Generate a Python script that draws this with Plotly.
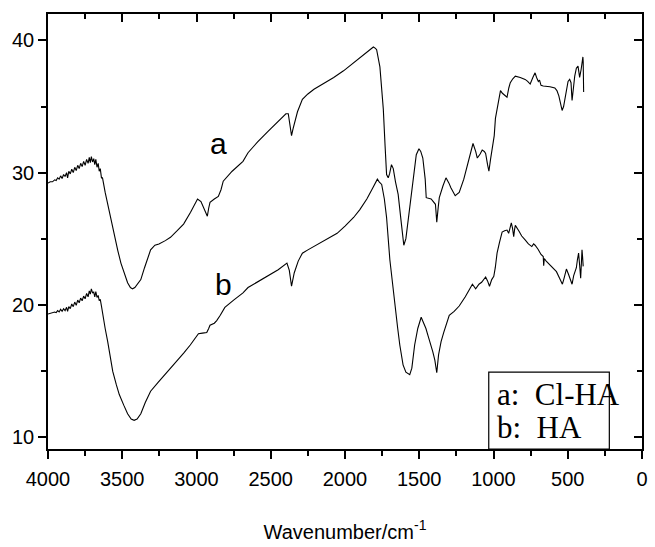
import plotly.graph_objects as go

# Curve a (Cl-HA)
wn_a = [4000, 3985, 3970, 3955, 3945, 3935, 3925, 3915, 3905, 3895, 3885, 3875, 3868, 3860, 3850, 3840,
        3830, 3820, 3810, 3800, 3790, 3780, 3770, 3760, 3750, 3740, 3730, 3722, 3715, 3708, 3700, 3692,
        3685, 3678, 3670, 3662, 3655, 3648, 3640, 3633, 3615, 3598, 3575, 3553, 3530, 3509, 3485, 3464,
        3445, 3431, 3415, 3395, 3375, 3350, 3325, 3309, 3280, 3253, 3210, 3175, 3130, 3087, 3040, 2993,
        2970, 2953, 2935, 2927, 2918, 2909, 2880, 2853, 2835, 2820, 2760, 2687, 2653, 2590, 2520, 2460,
        2398, 2382, 2372, 2360, 2350, 2342, 2320, 2287, 2250, 2209, 2140, 2076, 2010, 1942, 1875, 1830,
        1809, 1795, 1787, 1765, 1742, 1730, 1720, 1709, 1700, 1687, 1675, 1660, 1642, 1620, 1604, 1590,
        1570, 1545, 1520, 1502, 1490, 1476, 1460, 1453, 1420, 1391, 1382, 1372, 1365, 1340, 1320, 1300,
        1287, 1258, 1231, 1200, 1176, 1150, 1138, 1120, 1109, 1090, 1076, 1062, 1053, 1040, 1031, 1020,
        1009, 995, 987, 970, 953, 940, 931, 920, 909, 897, 887, 870, 853, 820, 787, 770,
        753, 735, 720, 710, 698, 690, 680, 665, 620, 587, 573, 560, 548, 538, 528, 520,
        510, 498, 487, 478, 471, 462, 453, 442, 431, 425, 420, 410, 404, 398, 396, 393]
t_a = [29.2, 29.3, 29.3, 29.45, 29.4, 29.6, 29.5, 29.75, 29.55, 29.85, 29.7, 30.0, 29.6, 30.1, 29.9, 30.25,
       30.0, 30.4, 30.15, 30.55, 30.3, 30.7, 30.45, 30.85, 30.55, 31.0, 30.7, 31.15, 30.75, 31.2, 30.8, 31.05,
       30.6, 31.0, 30.4, 30.7, 30.1, 30.3, 29.6, 29.6, 28.5, 27.6, 26.3, 25.1, 24.1, 23.15, 22.3, 21.66,
       21.3, 21.2, 21.3, 21.6, 21.9, 22.8, 23.7, 24.15, 24.5, 24.6, 24.85, 25.1, 25.6, 26.1, 27.0, 28.0,
       27.8, 27.4, 27.0, 26.7, 27.3, 27.75, 28.0, 28.2, 28.7, 29.35, 30.1, 30.85, 31.5, 32.3, 33.1, 33.8,
       34.45, 34.45, 33.6, 32.8, 33.3, 33.7, 34.6, 35.55, 35.95, 36.3, 36.75, 37.2, 37.7, 38.3, 38.9, 39.3,
       39.5, 39.4, 39.3, 38.0, 34.8, 32.0, 29.85, 29.6, 29.9, 30.6, 30.3, 29.3, 28.35, 26.1, 24.5, 25.0,
       26.8, 29.2, 31.35, 31.8, 31.6, 31.1, 29.5, 28.1, 28.0, 27.6, 26.25, 27.4, 28.1, 29.0, 29.6, 29.2,
       28.85, 28.25, 28.5, 29.5, 30.6, 31.8, 32.2, 31.6, 31.1, 31.4, 31.7, 31.6, 31.45, 30.6, 30.1, 31.0,
       31.7, 32.8, 34.1, 35.3, 36.2, 36.0, 35.9, 35.8, 35.7, 36.4, 36.8, 37.1, 37.3, 37.2, 37.05, 36.9,
       36.7, 37.2, 37.55, 37.2, 36.9, 37.0, 36.6, 36.55, 36.5, 36.4, 36.2, 35.8, 35.2, 34.7, 35.0, 35.55,
       36.3, 36.9, 37.05, 36.8, 35.45, 36.4, 37.3, 37.9, 38.05, 37.6, 37.2, 37.8, 38.3, 38.75, 38.4, 36.1]

# Curve b (HA)
wn_b = [4000, 3985, 3970, 3955, 3945, 3935, 3925, 3915, 3905, 3895, 3885, 3875, 3868, 3860, 3850, 3840,
        3830, 3820, 3810, 3800, 3790, 3780, 3770, 3760, 3750, 3740, 3730, 3722, 3715, 3708, 3700, 3692,
        3685, 3678, 3670, 3662, 3655, 3648, 3640, 3631, 3615, 3598, 3580, 3564, 3540, 3520, 3490, 3464,
        3440, 3420, 3400, 3375, 3345, 3309, 3260, 3220, 3175, 3131, 3085, 3042, 3010, 2987, 2960, 2931,
        2918, 2909, 2880, 2864, 2840, 2809, 2750, 2687, 2653, 2590, 2520, 2450, 2391, 2375, 2360, 2350,
        2342, 2315, 2287, 2250, 2209, 2130, 2053, 2000, 1942, 1900, 1853, 1815, 1782, 1770, 1753, 1735,
        1720, 1698, 1680, 1664, 1645, 1631, 1620, 1609, 1590, 1564, 1550, 1531, 1510, 1487, 1470, 1455,
        1442, 1425, 1409, 1395, 1382, 1370, 1353, 1335, 1320, 1298, 1265, 1231, 1190, 1142, 1120, 1098,
        1080, 1064, 1053, 1040, 1027, 1012, 998, 988, 976, 960, 942, 925, 909, 898, 888, 880,
        872, 864, 858, 853, 830, 810, 787, 765, 742, 730, 720, 700, 680, 665, 662, 658,
        645, 631, 605, 576, 555, 536, 525, 509, 495, 480, 471, 460, 450, 442, 435, 427,
        420, 413, 408, 404, 400, 396]
t_b = [19.3, 19.35, 19.4, 19.45, 19.4, 19.55, 19.45, 19.65, 19.5, 19.7, 19.55, 19.8, 19.5, 19.85, 19.7, 20.05,
       19.85, 20.2, 19.95, 20.35, 20.15, 20.5, 20.3, 20.65, 20.45, 20.85, 20.6, 21.05, 20.8, 21.2, 20.9, 20.95,
       20.6, 21.0, 20.55, 20.7, 20.3, 20.4, 19.9, 19.2, 18.2, 17.2, 16.0, 14.95, 13.95, 13.2, 12.4, 11.75,
       11.35, 11.25, 11.35, 11.75, 12.6, 13.45, 14.1, 14.6, 15.15, 15.7, 16.35, 16.95, 17.4, 17.8, 17.85, 17.9,
       18.2, 18.45, 18.6, 18.8, 19.2, 19.8, 20.35, 20.9, 21.3, 21.7, 22.15, 22.65, 23.15, 22.6, 21.4, 22.0,
       22.4, 23.3, 23.9, 24.15, 24.4, 24.9, 25.4, 25.95, 26.6, 27.2, 28.0, 28.8, 29.5, 29.3, 29.1, 28.0,
       26.6, 23.4, 21.5, 19.9, 18.2, 16.95, 16.2, 15.45, 14.9, 14.7, 15.2, 16.95, 18.2, 19.05, 18.6, 18.2,
       17.7, 17.1, 16.45, 15.8, 14.85, 16.2, 17.2, 17.9, 18.45, 19.2, 19.5, 19.9, 20.6, 21.55, 21.2, 21.55,
       21.7, 21.9, 22.1, 21.8, 21.4, 21.9, 22.15, 22.8, 23.9, 24.7, 25.5, 25.6, 25.65, 25.4, 25.9, 26.2,
       25.8, 25.15, 25.7, 26.0, 25.6, 25.2, 24.9, 24.6, 24.4, 24.6, 24.5, 24.2, 23.8, 23.65, 22.95, 23.5,
       23.3, 23.15, 22.8, 22.5, 22.0, 21.55, 22.0, 22.7, 22.3, 21.9, 21.55, 22.2, 22.5, 22.8, 23.4, 23.9,
       23.0, 22.0, 23.2, 24.15, 23.6, 22.9]

x_ticks = [4000, 3500, 3000, 2500, 2000, 1500, 1000, 500, 0]
y_ticks = [10, 20, 30, 40]
x_range = [4000, 0]
y_range = [9.08, 42.0]

curve_labels = ["a", "b"]
label_pos_x = [2849, 2820]
label_pos_y = [32.2, 21.56]
legend_lines = ["a:\u00a0\u00a0Cl-HA", "b:\u00a0\u00a0HA"]

fig = go.Figure()
fig.add_trace(go.Scatter(x=wn_a, y=t_a, mode="lines", line=dict(color="black", width=1.1),
                         hoverinfo="skip"))
fig.add_trace(go.Scatter(x=wn_b, y=t_b, mode="lines", line=dict(color="black", width=1.1),
                         hoverinfo="skip"))
# invisible trace to activate the mirrored (top/right) axes
fig.add_trace(go.Scatter(x=[2000], y=[20], xaxis="x2", yaxis="y2", mode="markers",
                         marker=dict(opacity=0), hoverinfo="skip"))

axfont = dict(family="Liberation Sans, Arial, sans-serif", size=20, color="black")
common = dict(showgrid=False, zeroline=False, showline=True, linecolor="black", linewidth=1.5,
              tickcolor="black", tickwidth=1.5)

fig.update_layout(
    width=655, height=547,
    margin=dict(l=48, r=7, t=14, b=91),
    plot_bgcolor="white", paper_bgcolor="white",
    showlegend=False,
    xaxis=dict(range=x_range, tickvals=x_ticks, ticks="outside", ticklen=8,
               minor=dict(dtick=250, tick0=0, ticks="outside", ticklen=5, tickwidth=1.5, tickcolor="black"),
               tickfont=axfont, ticklabelstandoff=3,
               title=dict(text="Wavenumber/cm<sup>-1</sup>", font=axfont, standoff=36),
               **common),
    xaxis2=dict(range=x_range, overlaying="x", side="top", tickvals=x_ticks, ticks="inside", ticklen=8,
                minor=dict(dtick=250, tick0=0, ticks="inside", ticklen=5, tickwidth=1.5, tickcolor="black"),
                showticklabels=False, **common),
    yaxis=dict(range=y_range, tickvals=y_ticks, ticks="outside", ticklen=8,
               minor=dict(dtick=5, tick0=0, ticks="outside", ticklen=5, tickwidth=1.5, tickcolor="black"),
               tickfont=axfont, **common),
    yaxis2=dict(range=y_range, overlaying="y", side="right", tickvals=y_ticks, ticks="inside", ticklen=8,
                minor=dict(dtick=5, tick0=0, ticks="inside", ticklen=5, tickwidth=1.5, tickcolor="black"),
                showticklabels=False, **common),
)

for txt, lx, ly in zip(curve_labels, label_pos_x, label_pos_y):
    fig.add_annotation(x=lx, y=ly, xref="x", yref="y", text=txt, showarrow=False,
                       font=dict(family="Liberation Sans, Arial, sans-serif", size=30, color="black"))

fig.add_shape(type="rect", xref="paper", yref="paper", x0=0.742, x1=0.945, y0=0.0, y1=0.1765,
              line=dict(color="black", width=1.2), fillcolor="white", layer="above")
legend_y = [0.125, 0.0505]
for txt, ly in zip(legend_lines, legend_y):
    fig.add_annotation(x=0.7533, y=ly, xref="paper", yref="paper", text=txt, showarrow=False,
                       xanchor="left", yanchor="middle",
                       font=dict(family="Liberation Serif, Times New Roman, serif", size=31, color="black"))

# remove the default page margin so the 655x547 figure fills the window exactly
fig.write_html("out.html", post_script="document.body.style.margin='0px';",
               config={"displayModeBar": False})
